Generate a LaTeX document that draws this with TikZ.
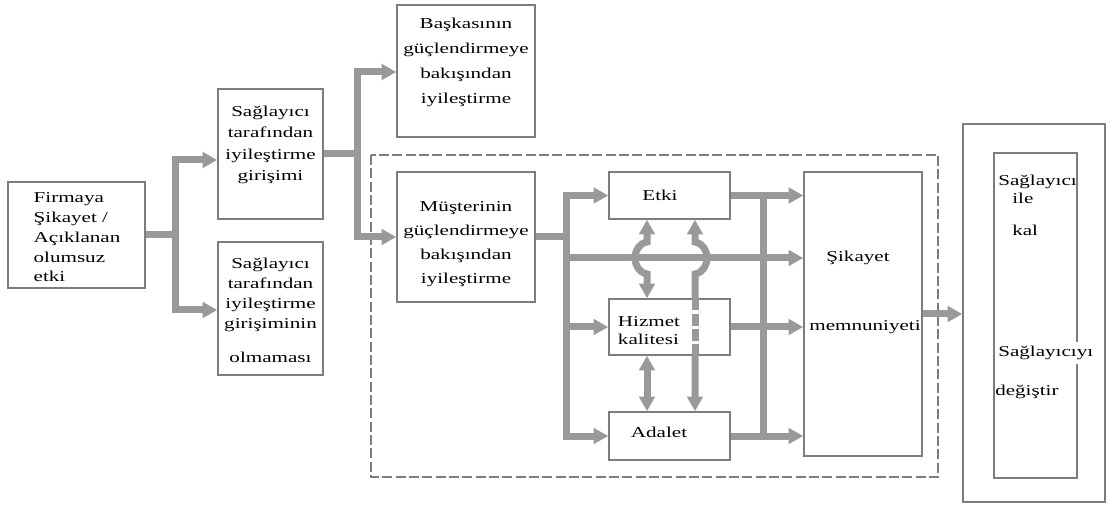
\documentclass[tikz,border=0pt]{standalone}
\usepackage{fontspec}
\setmainfont{Liberation Serif}[FakeStretch=1.4]
\usetikzlibrary{arrows.meta,backgrounds}
\definecolor{conngray}{RGB}{153,153,153}
\definecolor{boxgray}{RGB}{125,125,125}
\begin{document}
\begin{tikzpicture}[x=0.75pt,y=-0.75pt,
  box/.style={draw=boxgray, line width=1.1pt, fill=white, inner sep=0pt},
  txt/.style={inner sep=0pt, font=\fontsize{11.3}{15}\selectfont, align=center, text=black},
  conn/.style={draw=conngray, line width=5.25pt, line join=miter},
  arr/.style={-{Triangle[length=11pt,width=11.5pt]}},
  darr/.style={{Triangle[length=11pt,width=11.5pt]}-{Triangle[length=11pt,width=11.5pt]}}]
\useasboundingbox (0,0) rectangle (1108,506);

% boxes
\node[box, minimum width=102.75pt, minimum height=79.5pt] (firm) at (76.5,235) {};
\node[box, minimum width=78.75pt, minimum height=97.5pt] (sag1) at (270.5,154) {};
\node[box, minimum width=78.75pt, minimum height=99.75pt] (sag2) at (270.5,308.5) {};
\node[box, minimum width=103.5pt, minimum height=99pt] (bask) at (466,71) {};
\node[box, minimum width=103.5pt, minimum height=97.5pt] (must) at (466,237) {};
\node[box, minimum width=90.75pt, minimum height=35.25pt] (etki) at (669.5,195.5) {};
\node[box, minimum width=90.75pt, minimum height=42pt] (hiz) at (669.5,327) {};
\node[box, minimum width=90.75pt, minimum height=36pt] (adal) at (669.5,436) {};
\node[box, minimum width=88.5pt, minimum height=213pt] (sik) at (863,314) {};
\node[box, minimum width=106.5pt, minimum height=283.5pt] (outer) at (1034,313) {};
\node[box, minimum width=62.25pt, minimum height=243.75pt] (inner) at (1035.5,315.5) {};

% texts
\node[txt, align=left, font=\fontsize{11.3}{14.8}\selectfont] (firmt) at (77,237.5) {Firmaya\\Şikayet /\\Açıklanan\\olumsuz\\etki};
\node[txt, font=\fontsize{11.3}{16}\selectfont] (sag1t) at (270.5,145) {Sağlayıcı\\tarafından\\iyileştirme\\girişimi};
\node[txt, font=\fontsize{11.3}{15}\selectfont] (sag2t) at (270.5,310) {Sağlayıcı\\tarafından\\iyileştirme\\girişiminin\\[10.5pt]olmaması};
\node[txt, font=\fontsize{11.3}{18.75}\selectfont] (baskt) at (466,62.5) {Başkasının\\güçlendirmeye\\bakışından\\iyileştirme};
\node[txt, font=\fontsize{11.3}{18}\selectfont] (mustt) at (466,244) {Müşterinin\\güçlendirmeye\\bakışından\\iyileştirme};
\node[txt] (etkit) at (660,195) {Etki};
\node[txt, align=left, font=\fontsize{11.3}{13.5}\selectfont] (hizt) at (649,331) {Hizmet\\kalitesi};
\node[txt] (adalt) at (659,432) {Adalet};
\node[txt] (sikt1) at (858,258) {Şikayet};
\node[txt] (sikt2) at (865,327) {memnuniyeti};
\node[txt, anchor=west] (in1) at (998,182) {Sağlayıcı};
\node[txt, anchor=west] (in2) at (1012,198) {ile};
\node[txt, anchor=west] (in3) at (1012,230) {kal};
\node[txt, anchor=west, fill=white, inner ysep=3pt] (in4) at (998,353) {Sağlayıcıyı};
\node[txt, anchor=west] (in5) at (995,392) {değiştir};

% connectors
\begin{scope}[on background layer]
\draw[boxgray, line width=1pt, dash pattern=on 7.5pt off 2.5pt] (371,155) rectangle (938,477);
\coordinate (j1a) at (175,160); \coordinate (j1b) at (175,310);
\draw[conn,arr] (firm.east) -| (j1a) -- (j1a -| sag1.west);
\draw[conn,arr] (firm.east) -| (j1b) -- (j1b -| sag2.west);
\coordinate (j2a) at (357,72); \coordinate (j2b) at (357,237);
\draw[conn,arr] (sag1.east) -| (j2a) -- (j2a -| bask.west);
\draw[conn,arr] (sag1.east) -| (j2b) -- (j2b -| must.west);
\coordinate (j3) at (566,0);
\draw[conn,arr] (must.east) -| (j3 |- etki.west) -- (etki.west);
\draw[conn,arr] (must.east) -| (j3 |- adal.west) -- (adal.west);
\draw[conn,arr] (j3 |- hiz.west) -- (hiz.west);
\coordinate (h) at (566,258);
\draw[conn,arr] (h) -- (h -| sik.west);
\draw[conn,arr] (etki.east) -- (etki.east -| sik.west);
\draw[conn,arr] (hiz.east) -- (hiz.east -| sik.west);
\draw[conn,arr] (adal.east) -- (adal.east -| sik.west);
\coordinate (j4) at (763,0);
\draw[conn] (etki.east -| j4) -- (adal.east -| j4);
\draw[conn,arr] (sik.east) -- (sik.east -| outer.west);
\coordinate (v1) at (647,0); \coordinate (v2) at (695,0);
\draw[conn,darr] (etki.south -| v1) -- (647,242) .. controls (631,245) and (631,271) .. (647,274) -- (hiz.north -| v1);
\draw[conn,darr] (etki.south -| v2) -- (695,242) .. controls (711,245) and (711,271) .. (695,274) -- (adal.north -| v2);
\draw[conn,darr] (hiz.south -| v1) -- (adal.north -| v1);
\end{scope}
\draw[conn, dash pattern=on 9pt off 2.5pt] (hiz.north -| v2) -- (hiz.south -| v2);
\end{tikzpicture}
\end{document}
